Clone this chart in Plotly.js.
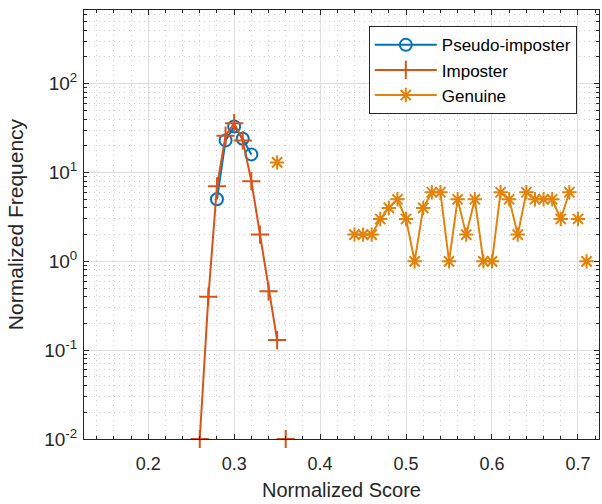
<!DOCTYPE html>
<html>
<head>
<meta charset="utf-8">
<script src="https://cdn.plot.ly/plotly-3.0.1.min.js"></script>
<style>html,body{margin:0;padding:0;background:#fff;}#chart{width:602px;height:504px;}</style>
</head>
<body>
<div id="chart"></div>
<script>
// Pseudo-imposter
const pseudoX = [0.28, 0.29, 0.30, 0.31, 0.32];
const pseudoY = [5, 23, 33, 24, 16];
// Imposter (null = gap in the line)
const impX = [0.26, 0.27, 0.28, 0.29, 0.30, 0.31, 0.32, 0.33, 0.34, 0.35, 0.355, 0.36];
const impY = [0.01, 0.4, 7, 26, 36, 23, 8, 2, 0.46, 0.13, null, 0.01];
// Genuine (null = gap in the line)
const genX = [0.35, 0.40, 0.44, 0.45, 0.46, 0.47, 0.48, 0.49, 0.50, 0.51, 0.52, 0.53, 0.54, 0.55,
              0.56, 0.57, 0.58, 0.59, 0.60, 0.61, 0.62, 0.63, 0.64, 0.65, 0.66, 0.67, 0.68, 0.69,
              0.695, 0.70, 0.705, 0.71];
const genY = [13, null, 2, 2, 2, 3, 4, 5, 3, 1, 4, 6, 6, 1,
              5, 2, 5, 1, 1, 6, 5, 2, 6, 5, 5, 5, 3, 6,
              null, 3, null, 1];

const yTickVals = [0.01, 0.1, 1, 10, 100];
const yTickText = ['10<sup>-2</sup>', '10<sup>-1</sup>', '10<sup>0</sup>', '10<sup>1</sup>', '10<sup>2</sup>'];
const xTickVals = [0.2, 0.3, 0.4, 0.5, 0.6, 0.7];
const xTickText = ['0.2', '0.3', '0.4', '0.5', '0.6', '0.7'];

const traces = [
  {x: pseudoX, y: pseudoY, name: 'Pseudo-imposter', type: 'scatter', mode: 'lines+markers',
   line: {color: '#0072BD', width: 2},
   marker: {symbol: 'circle-open', size: 12, color: '#0072BD', line: {width: 2, color: '#0072BD'}},
   cliponaxis: false},
  {x: impX, y: impY, name: 'Imposter', type: 'scatter', mode: 'lines+markers',
   line: {color: '#D95319', width: 2},
   marker: {symbol: 'cross-thin-open', size: 13, color: '#D95319', line: {width: 2, color: '#D95319'}},
   cliponaxis: false, connectgaps: false},
  {x: genX, y: genY, name: 'Genuine', type: 'scatter', mode: 'lines+markers',
   line: {color: '#E3830B', width: 2},
   marker: {symbol: 'asterisk-open', size: 12, color: '#E3830B', line: {width: 2, color: '#E3830B'}},
   cliponaxis: false, connectgaps: false}
];

const layout = {
  width: 602, height: 504,
  margin: {l: 84, r: 3, t: 9.5, b: 65},
  paper_bgcolor: '#fff', plot_bgcolor: '#fff',
  font: {family: 'Liberation Sans, Arial, sans-serif', color: '#262626', size: 17},
  showlegend: true,
  legend: {x: 0.553, y: 0.962, xanchor: 'left', yanchor: 'top',
           bgcolor: '#fff', bordercolor: '#262626', borderwidth: 1,
           font: {size: 17, color: '#000'}, itemwidth: 62, tracegroupgap: 0},
  xaxis: {
    range: [0.1253, 0.7245], tickvals: xTickVals, ticktext: xTickText,
    ticks: 'inside', ticklen: 5, tickcolor: '#262626', tickfont: {size: 18, color: '#262626'},
    ticklabelstandoff: 8,
    showline: true, linecolor: '#262626', linewidth: 1, mirror: 'ticks',
    showgrid: true, gridcolor: '#dedede', gridwidth: 1, zeroline: false,
    minor: {dtick: 0.02, tick0: 0, ticks: 'inside', ticklen: 3, tickcolor: '#262626',
            showgrid: true, gridcolor: '#cfcfcf', griddash: '1px,4px', gridwidth: 1},
    title: {text: 'Normalized Score', font: {size: 20, color: '#262626'}, standoff: 10}
  },
  yaxis: {
    type: 'log', range: [-2, 2.83], tickvals: yTickVals, ticktext: yTickText,
    ticks: 'inside', ticklen: 5, tickcolor: '#262626', tickfont: {size: 19, color: '#262626'},
    ticklabelstandoff: 2,
    showline: true, linecolor: '#262626', linewidth: 1, mirror: 'ticks',
    showgrid: true, gridcolor: '#dedede', gridwidth: 1, zeroline: false,
    minor: {dtick: 'D1', ticks: 'inside', ticklen: 3, tickcolor: '#262626',
            showgrid: true, gridcolor: '#cfcfcf', griddash: '1px,4px', gridwidth: 1},
    title: {text: 'Normalized Frequency', font: {size: 21, color: '#262626'}, standoff: 14}
  }
};

Plotly.newPlot('chart', traces, layout, {displayModeBar: false, staticPlot: true});
</script>
</body>
</html>
